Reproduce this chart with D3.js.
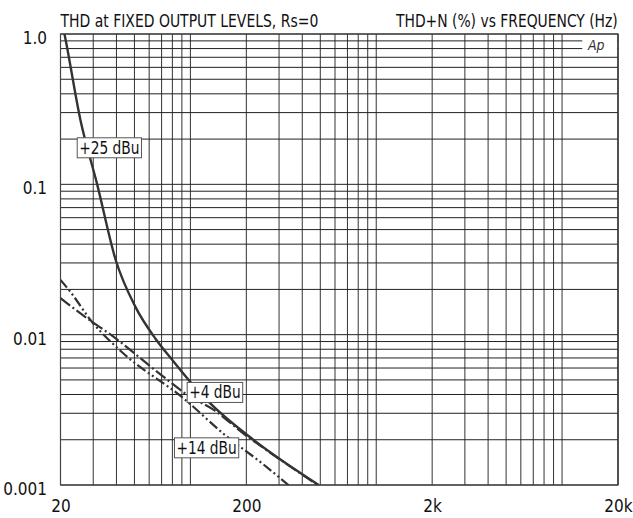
<!DOCTYPE html>
<html>
<head>
<meta charset="utf-8">
<script src="https://cdn.jsdelivr.net/npm/d3@7"></script>
<style>
  body { margin: 0; background: #fff; }
  svg { display: block; }
  text { font-family: "DejaVu Sans Condensed", "DejaVu Sans", "Liberation Sans Narrow", sans-serif; font-stretch: condensed; fill: #111; }
</style>
</head>
<body>
<svg width="633" height="518"></svg>
<script>
// THD+N vs frequency, three output levels
var freq25 = [20, 21, 25.6, 31.5, 39.6, 50.6, 64.9, 79.8, 97.9, 125.6, 218, 490];
var thd25  = [1.32, 1.0, 0.268, 0.1, 0.0315, 0.0153, 0.0094, 0.0068, 0.0050, 0.00357, 0.0020, 0.0010];

var freq4 = [20, 29.5, 36.4, 73.3, 96.1, 133.5, 197.6, 218, 490];
var thd4  = [0.0175, 0.0122, 0.0102, 0.00513, 0.00398, 0.00316, 0.00215, 0.00197, 0.00099];

var freq14 = [20, 22.5, 29.5, 42.6, 91.6, 157.2, 242, 343];
var thd14  = [0.0231, 0.0194, 0.0122, 0.0077, 0.00378, 0.0021, 0.0014, 0.00098];

var xTicks = [20, 200, 2000, 20000];
var xTickLabels = ['20', '200', '2k', '20k'];
var yTicks = [1, 0.1, 0.01, 0.001];
var yTickLabels = ['1.0', '0.1', '0.01', '0.001'];

// curve labels, anchored at their box's top-left corner (freq, thd)
var labelText = ['+25 dBu', '+4 dBu', '+14 dBu'];
var labelFreq = [24.6, 96.1, 82.1];
var labelThd  = [0.204, 0.00481, 0.00206];

var svg = d3.select('svg');
var padding = {t: 34, r: 15, b: 33, l: 60.5};
var svgWidth = +svg.attr('width');
var svgHeight = +svg.attr('height');
var chartWidth = svgWidth - padding.l - padding.r;
var chartHeight = svgHeight - padding.t - padding.b;

var xScale = d3.scaleLog().domain([20, 20000]).range([0, chartWidth]);
var yScale = d3.scaleLog().domain([0.001, 1]).range([chartHeight, 0]);

var chartG = svg.append('g')
    .attr('transform', 'translate(' + [padding.l, padding.t] + ')');

// log grid: 1..9 in every decade
var xGrid = [];
[10, 100, 1000, 10000].forEach(function(d) {
    for (var k = 1; k <= 9; k++) {
        var v = k * d;
        if (v >= 20 && v <= 20000) xGrid.push(v);
    }
});
xGrid.push(20000);
var yGrid = [];
[0.001, 0.01, 0.1].forEach(function(d) {
    for (var k = 1; k <= 9; k++) yGrid.push(k * d);
});
yGrid.push(1);

chartG.selectAll('.vgrid')
    .data(xGrid)
    .enter().append('line')
    .attr('class', 'vgrid')
    .attr('x1', function(d) { return xScale(d); })
    .attr('x2', function(d) { return xScale(d); })
    .attr('y1', 0)
    .attr('y2', chartHeight)
    .style('stroke', '#333')
    .style('stroke-width', 1);

chartG.selectAll('.hgrid')
    .data(yGrid)
    .enter().append('line')
    .attr('class', 'hgrid')
    .attr('x1', 0)
    .attr('x2', chartWidth)
    .attr('y1', function(d) { return yScale(d); })
    .attr('y2', function(d) { return yScale(d); })
    .style('stroke', '#222')
    .style('stroke-width', 1);

// frame
chartG.append('rect')
    .attr('width', chartWidth)
    .attr('height', chartHeight)
    .style('fill', 'none')
    .style('stroke', '#444')
    .style('stroke-width', 1.2);

// Ap logo patch in the corner
chartG.append('rect')
    .attr('x', xScale(9900) + 21)
    .attr('y', 1)
    .attr('width', chartWidth - xScale(9900) - 22)
    .attr('height', 19)
    .style('fill', '#fff');
chartG.append('text')
    .attr('x', chartWidth - 30)
    .attr('y', 15.5)
    .style('font-style', 'italic')
    .style('font-size', '14px')
    .style('fill', '#333')
    .text('Ap');

// curves
chartG.append('clipPath')
    .attr('id', 'plot-clip')
    .append('rect')
    .attr('width', chartWidth)
    .attr('height', chartHeight);

var line = d3.line()
    .x(function(d) { return xScale(d[0]); })
    .y(function(d) { return yScale(d[1]); })
    .curve(d3.curveMonotoneX);

var curves = [
    {f: freq14, v: thd14, dash: '10,3,2,3,2,3', w: 2.2},
    {f: freq4, v: thd4, dash: '12,3,2,3', w: 2.2},
    {f: freq25, v: thd25, dash: null, w: 2.4}
];

chartG.selectAll('.curve')
    .data(curves)
    .enter().append('path')
    .attr('class', 'curve')
    .attr('clip-path', 'url(#plot-clip)')
    .attr('d', function(c) { return line(d3.zip(c.f, c.v)); })
    .style('fill', 'none')
    .style('stroke', '#333')
    .style('stroke-width', function(c) { return c.w; })
    .style('stroke-dasharray', function(c) { return c.dash; });

// curve labels (squeezed a little, like the narrow original face)
var labelG = chartG.selectAll('.curve-label')
    .data(labelText)
    .enter().append('g')
    .attr('class', 'curve-label')
    .attr('transform', function(d, i) {
        return 'translate(' + [xScale(labelFreq[i]), yScale(labelThd[i])] + ')';
    });

labelG.append('rect')
    .style('fill', '#fff')
    .style('stroke', '#555')
    .style('stroke-width', 1);

labelG.append('text')
    .attr('transform', 'translate(2,16) scale(0.9,1)')
    .style('font-size', '17px')
    .text(function(d) { return d; });

labelG.each(function() {
    var g = d3.select(this);
    var w = g.select('text').node().getComputedTextLength() * 0.9;
    g.select('rect')
        .attr('width', w + 4)
        .attr('height', 20);
});

// axes
var xAxis = d3.axisBottom(xScale)
    .tickValues(xTicks)
    .tickSize(0)
    .tickPadding(15)
    .tickFormat(function(d, i) { return xTickLabels[i]; });

var xAxisG = chartG.append('g')
    .attr('transform', 'translate(0,' + chartHeight + ')')
    .call(xAxis);
xAxisG.select('.domain').remove();
xAxisG.selectAll('text')
    .style('font-size', '17px')
    .attr('fill', null);
xAxisG.attr('font-family', null);

var yAxis = d3.axisLeft(yScale)
    .tickValues(yTicks)
    .tickSize(0)
    .tickPadding(13.5)
    .tickFormat(function(d, i) { return yTickLabels[i]; });

var yAxisG = chartG.append('g').call(yAxis);
yAxisG.select('.domain').remove();
yAxisG.selectAll('text')
    .attr('dy', '0.55em')
    .style('font-size', '17px')
    .attr('fill', null);
yAxisG.attr('font-family', null);

// titles, scaled horizontally to the original widths
function title(txt, x0, width) {
    var t = svg.append('text')
        .style('font-size', '18px')
        .text(txt);
    var s = width / t.node().getComputedTextLength();
    t.attr('transform', 'translate(' + [x0, 27] + ') scale(' + s + ',1)');
}
title('THD at FIXED OUTPUT LEVELS, Rs=0', padding.l, 258);
title('THD+N (%) vs FREQUENCY (Hz)', padding.l + chartWidth - 222, 222);
</script>
</body>
</html>
